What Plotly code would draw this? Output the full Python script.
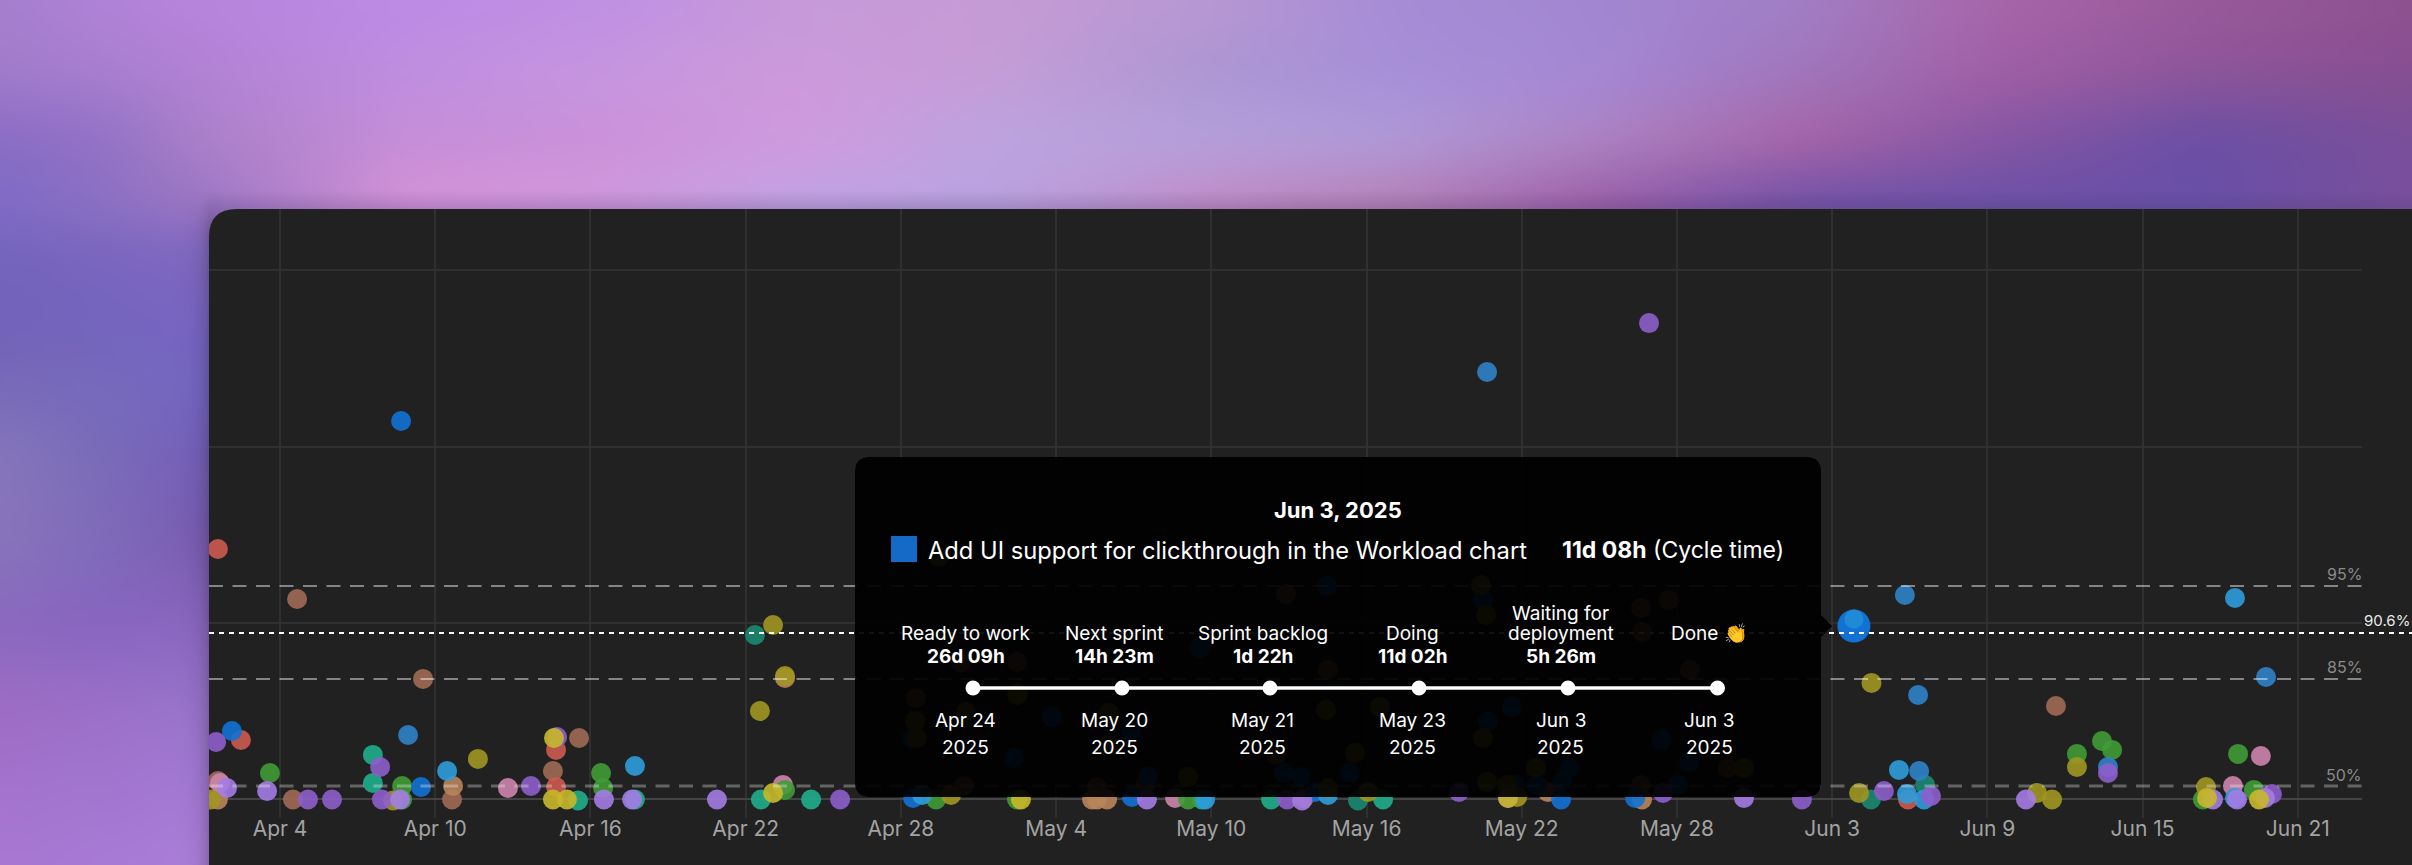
import base64
import struct
import zlib

import numpy as np
import pandas as pd
import plotly.graph_objects as go

W, H = 2412, 865
FONT = "Inter"
START = pd.Timestamp("2025-04-04")

# days since Apr 4 / cycle time in days, one pair of lists per colour
purple_day = [-2.47, 1.08, 2.01, 3.87, 3.94, 9.70, 10.71, 21.65, 38.93, 45.57, 47.47, 52.92, 53.46, 58.83, 62.0, 63.82, 70.66, 77.0]
purple_cycle = [3.91, 0, 0, 2.21, 0, 0.92, 4.25, 0, 0, 0.51, 0.1, 32.41, 0.44, 0, 0.58, 0.24, 1.80, 0.37]
lavender_day = [-2.05, -0.50, 4.64, 12.52, 13.61, 16.89, 33.51, 39.51, 56.59, 67.49, 74.72, 75.65, 76.73]
lavender_cycle = [0.78, 0.58, 0, 0, 0, 0, 0, -0.07, 0.1, 0, 0, 0, 0.1]
steel_day = [4.95, 46.66, 62.81, 63.32, 63.36, 70.66, 76.77]
steel_cycle = [4.39, 29.08, 13.91, 7.11, 1.94, 2.21, 8.33]
blue_day = [-1.86, 4.68, 5.45, 24.47, 32.93, 40.01, 49.52, 52.38, 24.43, 29.84, 28.37, 32.90, 33.55, 38.81, 39.47, 40.47, 41.36,
            46.50, 46.69, 47.62, 47.74, 48.59, 49.56, 49.83, 53.42, 54.04, 54.46, 35.56]
blue_cycle = [4.66, 25.75, 0.85, 0.1, 0.17, 0.51, 0, 0.1, 4.18, 5.61, 2.82, 4.52, 1.53, 1.80, 1.53, 14.52, 1.80,
              13.57, 5.34, 6.29, 0.99, 0.99, 1.19, 2.14, 4.05, 0.99, 2.55, 10.31]
light_blue_day = [6.46, 13.72, 24.82, 35.76, 40.51, 62.58, 62.89, 63.55, 75.57, 75.57]
light_blue_cycle = [1.94, 2.28, 0.31, 0, 0.31, 2.01, 0.37, 0, 13.71, 0.1]
teal_day = [3.59, 3.59, 11.52, 13.72, 18.59, 20.53, 35.64, 38.31, 42.64]
teal_cycle = [3.03, 1.12, -0.07, 0, 0, 0, 0, 0, 0]
dark_teal_day = [18.36, 41.67, 61.50, 63.59]
dark_teal_cycle = [11.19, -0.07, 0, 0.99]
green_day = [-0.39, 4.72, 4.72, 12.41, 12.49, 19.52, 25.36, 28.49, 35.10, 69.46, 70.43, 70.82, 74.33, 76.30, 75.69]
green_cycle = [1.80, 0.92, 0, 1.80, 0.78, 0.65, 0, 0, 0, 3.10, 3.98, 3.37, 0, 0.65, 3.10]
olive_day = [-2.67, 4.37, 7.65, 18.55, 19.06, 19.52, 25.94, 42.06, 47.82, 61.04, 61.52, 67.92, 68.50, 69.46, 74.45,
             24.62, 24.55, 25.47, 26.52, 28.49, 28.53, 32.04, 35.10, 40.43, 41.55, 42.52, 46.42, 46.62, 46.50, 48.55, 46.66, 47.43, 56.59, 40.51]
olive_cycle = [0, -0.07, 2.76, 6.02, 11.87, 8.40, 0.31, 0.51, 0.17, 0.44, 7.93, 0.44, 0, 2.21, 0.85,
               4.18, 5.34, 16.5, 5.95, 7.11, 7.24, 5.88, 1.53, 6.09, 3.16, 6.29, 14.59, 12.55, 4.18, 2.14, 1.19, 0.99, 2.14, 0.78]
yellow_day = [10.59, 10.55, 11.09, 19.06, 28.64, 47.47, 74.49, 76.50]
yellow_cycle = [4.18, 0, 0, 0.44, 0, 0.1, 0.1, 0]
brown_day = [0.66, 0.50, 5.53, 6.65, 10.55, 11.56, -2.40, 39.58, 68.65,
             24.58, 26.32, 28.49, 32.01, 31.58, 33.44, 26.44, 52.61, 55.97, 38.50, 38.89, 40.51, 54.50, 52.61, 52.65, 53.69]
brown_cycle = [13.64, 0, 8.20, 0, 1.94, 4.18, 1.26, 0.1, 6.36,
               6.90, 9.29, 9.35, 3.71, 0.85, 0.99, 0.92, 0.99, 2.14, 3.03, 13.98, 8.81, 8.81, 13.03, 11.39, 13.57]
orange_day = [-2.40, 6.69, 19.52, 31.39, 31.58, 31.97, 49.01, 52.65]
orange_cycle = [0, 0.92, 8.27, 0, 0, 0, 0.51, 0]
red_day = [-2.40, -1.51, 10.67, 10.67, 62.93]
red_cycle = [17.04, 4.05, 3.37, 0.85, 0]
pink_day = [-2.32, 8.81, 19.44, 34.60, 75.49, 76.57]
pink_cycle = [1.12, 0.78, 0.99, 0.1, 0.92, 2.96]

series = [
    (brown_day, brown_cycle, "#a06a54"),
    (orange_day, orange_cycle, "#b8845a"),
    (red_day, red_cycle, "#cc5a50"),
    (pink_day, pink_cycle, "#cc84ac"),
    (teal_day, teal_cycle, "#1fae8c"),
    (dark_teal_day, dark_teal_cycle, "#1a8870"),
    (green_day, green_cycle, "#3f9c35"),
    (steel_day, steel_cycle, "#2f82c8"),
    (blue_day, blue_cycle, "#1272d4"),
    (light_blue_day, light_blue_cycle, "#2e9cdc"),
    (olive_day, olive_cycle, "#a09622"),
    (purple_day, purple_cycle, "#8e5ecc"),
    (lavender_day, lavender_cycle, "#a47ce4"),
    (yellow_day, yellow_cycle, "#c8b82a"),
]

# the hovered item
selected_day = [60.84]
selected_cycle = [11.80]
selected_top_cycle = [12.28]

# percentile lines, in days
pct_labels = ["95%", "85%", "50%"]
pct_values = [14.52, 8.20, 0.92]
current_pct_label = "90.6%"
current_pct_value = 11.33

# tooltip
tip_date = "Jun 3, 2025"
tip_item = "Add UI support for clickthrough in the Workload chart"
tip_time = "11d 08h"
step_names = ["Ready to work", "Next sprint", "Sprint backlog", "Doing", "Waiting for<br>deployment", "Done 👏"]
step_times = ["26d 09h", "14h 23m", "1d 22h", "11d 02h", "5h 26m", ""]
step_dates = ["Apr 24", "May 20", "May 21", "May 23", "Jun 3", "Jun 3"]
step_years = ["2025", "2025", "2025", "2025", "2025", "2025"]

# backdrop colours
top_cols = [0, 100, 200, 400, 600, 800, 1000, 1200, 1400, 1600, 1800, 2000, 2200, 2412]
top_rows = [0, 70, 140, 210]
top_colors = [
    "a67fcf b083d8 b885dd bd8ae6 bf90e4 c69ad9 c69bd5 b998d3 a68cd6 a286d1 a27fc6 a866a9 9a5a9a 8f5190",
    "a27ccb a97ed0 b282d6 c08ee0 c796e0 cd9adb c59dd6 ad97d3 a78fd8 a588d5 a077bd a15fa6 8f569a 874f91",
    "8a6cc4 9272c6 ab80c8 c68ed8 cb91da d09adf bca4e0 b5a0dc b09ad8 ad83c3 a865a8 8656a3 6a4fa5 7a4f9b",
    "7e6bc8 8a70c2 9a75c4 d693d8 d39ade c0a5e6 baa2e0 c48cc6 b77eb3 9a5aa5 6b50a8 6950a8 6950a8 7a4f9e",
]
left_rows = [251, 327, 390, 454, 539, 624, 709, 794, 865]
left_colors = [
    "7565bb 7a66c0 8068c0",
    "7362ba 7465be 7866c4",
    "7a6bb8 776abc 7566c2",
    "8576bd 7a6cb8 7560bb",
    "8974bc 7f6cba 7a5cb0",
    "8a69bf 8865c0 8a68c0",
    "9e6dc4 9c70c8 9a75cc",
    "a474ce a276cf a57ad6",
    "a878d2 a87bd6 ab80d8",
]


def to_dates(days):
    return (START + pd.to_timedelta(days, unit="D")).strftime("%Y-%m-%d %H:%M:%S").tolist()


def hex_row(row):
    return [[int(c[i:i + 2], 16) for i in (0, 2, 4)] for c in row.split()]


def backdrop():
    # coarse colour grid -> smooth picture, with the card's shadow baked in
    top = [hex_row(r) for r in top_colors]
    left = [hex_row(r) for r in left_colors]
    grid = np.array(top + [r + [r[-1]] * 11 for r in left], dtype=float)
    rows = np.array(top_rows + left_rows, dtype=float)
    cols = np.array(top_cols, dtype=float)
    w, h = W // 2, H // 2 + 1
    xs, ys = np.linspace(0, W, w), np.linspace(0, H, h)
    img = np.zeros((len(rows), w, 3))
    for i in range(len(rows)):
        for c in range(3):
            img[i, :, c] = np.interp(xs, cols, grid[i, :, c])
    out = np.zeros((h, w, 3))
    for j in range(w):
        for c in range(3):
            out[:, j, c] = np.interp(ys, rows, img[:, j, c])
    kernel = np.ones(21) / 21
    for _ in range(2):
        pad = np.pad(out, ((10, 10), (10, 10), (0, 0)), mode="edge")
        pad = np.apply_along_axis(lambda v: np.convolve(v, kernel, mode="same"), 0, pad)
        pad = np.apply_along_axis(lambda v: np.convolve(v, kernel, mode="same"), 1, pad)
        out = pad[10:-10, 10:-10]
    xx, yy = np.meshgrid(xs, ys)
    shadow = 1 - 0.22 * np.exp(-np.clip(209 - xx, 0, None) / 9) * np.clip((yy - 190) / 40, 0, 1)
    out = out * shadow[:, :, None]
    return np.clip(out, 0, 255).astype(np.uint8)


def png_uri(arr):
    def chunk(tag, data):
        body = tag + data
        return struct.pack(">I", len(data)) + body + struct.pack(">I", zlib.crc32(body))
    h, w, _ = arr.shape
    raw = b"".join(b"\x00" + arr[i].tobytes() for i in range(h))
    png = b"\x89PNG\r\n\x1a\n" + chunk(b"IHDR", struct.pack(">IIBBBBB", w, h, 8, 2, 0, 0, 0))
    png += chunk(b"IDAT", zlib.compress(raw, 9)) + chunk(b"IEND", b"")
    return "data:image/png;base64," + base64.b64encode(png).decode()


def px(x):
    return x / W


def py(y):
    return 1 - y / H


def path(points):
    return " ".join(f"{cmd}{' '.join(f'{px(x):.5f},{py(y):.5f}' for x, y in pts)}" for cmd, pts in points) + " Z"


def note(x, y, text, size=18, color="white", anchor="center"):
    fig.add_annotation(xref="paper", yref="paper", x=px(x), y=py(y), text=text, showarrow=False,
                       xanchor=anchor, yanchor="middle", font=dict(family=FONT, size=size, color=color))


fig = go.Figure()

for day, cycle, color in series:
    fig.add_trace(go.Scatter(x=to_dates(day), y=cycle, mode="markers", showlegend=False, hoverinfo="skip",
                             marker=dict(size=20, color=color, opacity=0.9, line=dict(width=0))))

fig.add_trace(go.Scatter(x=to_dates(selected_day), y=selected_cycle, mode="markers", showlegend=False, hoverinfo="skip",
                         marker=dict(size=33, color="#1272d4", line=dict(width=0))))
fig.add_trace(go.Scatter(x=to_dates(selected_day), y=selected_top_cycle, mode="markers", showlegend=False, hoverinfo="skip",
                         marker=dict(size=19, color="#1f8ad8", line=dict(width=0))))

# card
card = [("M", [(209, 865)]), ("L", [(209, 237)]), ("Q", [(209, 209), (237, 209)]), ("L", [(W, 209)]), ("L", [(W, H)])]
fig.add_shape(type="path", xref="paper", yref="paper", path=path(card), fillcolor="#212121", line_width=0, layer="below")

# percentile lines
for value, dash, color, width in zip(pct_values, ["14px,9.5px"] * 3,
                                     ["rgba(255,255,255,0.45)", "rgba(255,255,255,0.45)", "rgba(255,255,255,0.3)"],
                                     [2, 2, 3]):
    fig.add_shape(type="line", xref="paper", yref="y", x0=px(209), x1=px(2362), y0=value, y1=value,
                  line=dict(color=color, width=width, dash=dash), layer="above")
fig.add_shape(type="line", xref="paper", yref="y", x0=px(209), x1=1, y0=current_pct_value, y1=current_pct_value,
              line=dict(color="white", width=2, dash="5px,5px"), layer="above")
for label, y in zip(pct_labels, [574, 667, 775]):
    note(2344, y, label, size=16, color="#8a8a8a")
note(2412, 620, current_pct_label, size=15, color="#e8e8e8", anchor="right")

# tooltip box with its arrow
L, R, T, B, r = 855, 1821, 457, 797, 15
box = [("M", [(L + r, T)]), ("L", [(R - r, T)]), ("Q", [(R, T), (R, T + r)]), ("L", [(R, 615)]), ("L", [(1832, 626)]), ("L", [(R, 637)]),
       ("L", [(R, B - r)]), ("Q", [(R, B), (R - r, B)]), ("L", [(L + r, B)]), ("Q", [(L, B), (L, B - r)]), ("L", [(L, T + r)]), ("Q", [(L, T), (L + r, T)])]
fig.add_shape(type="path", xref="paper", yref="paper", path=path(box), fillcolor="rgba(0,0,0,0.93)", line_width=0, layer="above")
fig.add_shape(type="rect", xref="paper", yref="paper", x0=px(891), x1=px(917), y0=py(536), y1=py(562), fillcolor="#1569c7", line_width=0, layer="above")

note(1337.5, 510, f"<b>{tip_date}</b>", size=22)
note(925.5, 550, tip_item, size=23.7, anchor="left")
note(1786, 550, f"<b>{tip_time}</b> (Cycle time)", size=23, anchor="right")

# timeline
stop_x = [973, 1122, 1270, 1419, 1568, 1717.5]
label_x = [965.6, 1114, 1262.5, 1412, 1560.6, 1709]
fig.add_shape(type="line", xref="paper", yref="paper", x0=px(stop_x[0]), x1=px(stop_x[-1]), y0=py(688), y1=py(688),
              line=dict(color="white", width=3.5), layer="above")
for x in stop_x:
    fig.add_shape(type="circle", xref="paper", yref="paper", xsizemode="pixel", ysizemode="pixel", xanchor=px(x), yanchor=py(688),
                  x0=-7.5, x1=7.5, y0=-7.5, y1=7.5, fillcolor="white", line_width=0, layer="above")
for x, name, spent, date, year in zip(label_x, step_names, step_times, step_dates, step_years):
    if "<br>" in name:
        first, second = name.split("<br>")
        note(x, 613, first, size=19)
        note(x, 633, second, size=19)
    else:
        note(x, 633, name, size=19)
    if spent:
        note(x, 656, f"<b>{spent}</b>", size=19)
    note(x, 720, date, size=19)
    note(x, 747, year, size=19)

fig.update_xaxes(domain=[px(209), px(2362)], type="date",
                 range=to_dates([-2.745, 80.48]),
                 tick0="2025-04-04", dtick=6 * 86400000, tickformat="%b %-d",
                 showgrid=True, gridcolor="#303030", gridwidth=1.5, zeroline=False, showline=False, ticks="",
                 ticklabelstandoff=-4,
                 tickfont=dict(family=FONT, size=21, color="#a3a3a3"))
fig.update_yaxes(domain=[py(818), py(209)], range=[-1.26, 40.17], tick0=0, dtick=12,
                 showgrid=True, gridcolor="#303030", gridwidth=1.5, showticklabels=False, ticks="",
                 zeroline=True, zerolinecolor="#444444", zerolinewidth=1.5, showline=False)

fig.update_layout(
    width=W, height=H, autosize=False,
    margin=dict(l=0, r=0, t=0, b=0),
    paper_bgcolor="#7a5cb0", plot_bgcolor="rgba(0,0,0,0)",
    showlegend=False,
    images=[dict(source=png_uri(backdrop()), xref="paper", yref="paper", x=0, y=1, sizex=1, sizey=1,
                 sizing="stretch", xanchor="left", yanchor="top", layer="below")],
)

fig.write_html("out.html", post_script="document.body.style.margin='0';document.body.style.overflow='hidden';",
               config=dict(displayModeBar=False))
